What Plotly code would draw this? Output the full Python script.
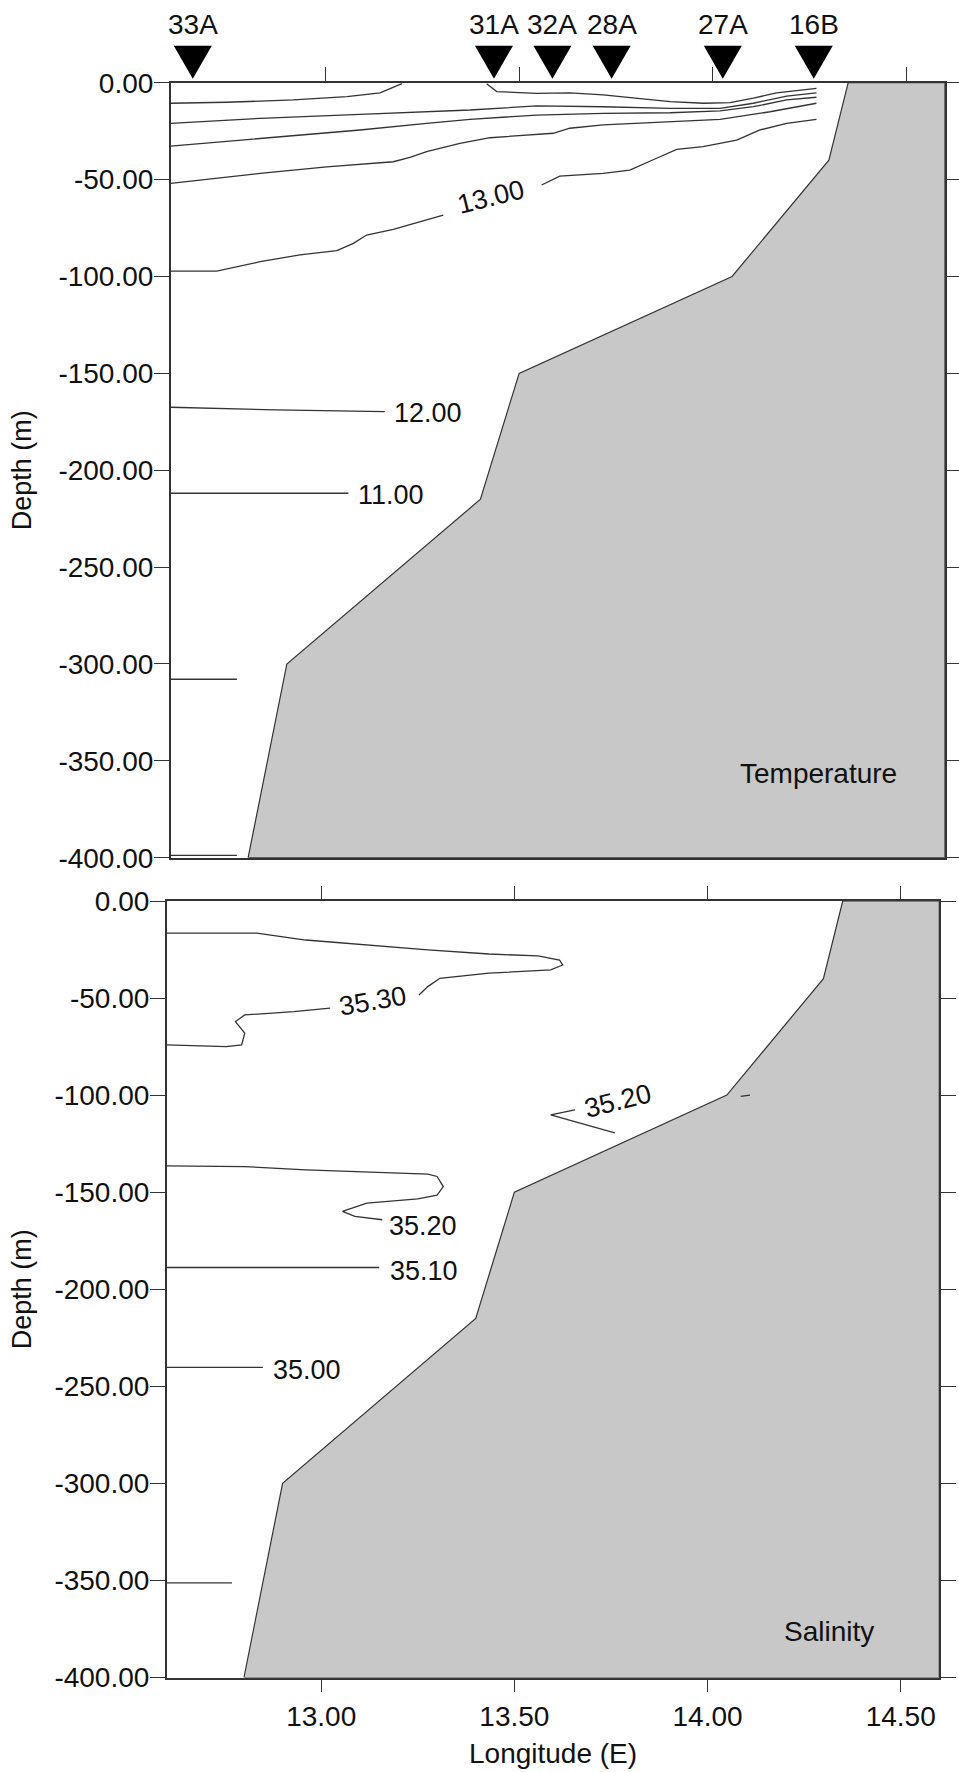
import plotly.graph_objects as go

# ---------------- axes / ticks ----------------
lon_range = [12.6, 14.6]
depth_range = [-400, 0]
depth_ticks = [0, -50, -100, -150, -200, -250, -300, -350, -400]
depth_ticktext = ["0.00", "-50.00", "-100.00", "-150.00", "-200.00",
                  "-250.00", "-300.00", "-350.00", "-400.00"]
lon_ticks = [13.0, 13.5, 14.0, 14.5]
lon_ticktext = ["13.00", "13.50", "14.00", "14.50"]

# ---------------- stations ----------------
station_names = ["33A", "31A", "32A", "28A", "27A", "16B"]
station_lon = [12.657, 13.435, 13.586, 13.739, 14.026, 14.261]

# ---------------- bathymetry (shelf profile) ----------------
bathy_lon = [12.80, 12.90, 13.40, 13.50, 14.05, 14.30, 14.35]
bathy_depth = [-400, -300, -215, -150, -100, -40, 0]

# ---------------- temperature contours ----------------
t17a_lon = [12.6, 12.744, 12.917, 13.055, 13.141, 13.175, 13.197]
t17a_depth = [-10.6, -10.1, -8.9, -7.2, -5.2, -2.4, -0.5]
t17b_lon = [13.416, 13.442, 13.545, 13.631, 13.717, 13.803, 13.890, 13.976, 14.045, 14.105, 14.165, 14.268]
t17b_depth = [-0.5, -4.6, -5.5, -5.2, -6.3, -8.0, -9.8, -10.6, -10.3, -8.0, -5.2, -2.9]
t16_lon = [12.6, 12.831, 13.089, 13.373, 13.545, 13.717, 13.890, 14.019, 14.105, 14.191, 14.268]
t16_depth = [-21.0, -18.4, -16.3, -14.1, -12.0, -12.4, -13.2, -13.2, -10.6, -6.9, -5.2]
t15_lon = [12.6, 12.831, 13.089, 13.261, 13.373, 13.545, 13.717, 13.890, 14.019, 14.105, 14.191, 14.268]
t15_depth = [-32.7, -28.7, -24.4, -21.0, -18.9, -16.7, -15.8, -15.5, -14.5, -12.4, -8.9, -7.5]
t14_lon = [12.6, 12.831, 13.003, 13.175, 13.218, 13.261, 13.347, 13.425, 13.588, 13.631, 13.717, 13.890, 14.019, 14.148, 14.268]
t14_depth = [-52.0, -46.8, -43.4, -40.8, -38.5, -35.6, -31.3, -28.4, -26.1, -23.5, -21.8, -20.1, -18.9, -15.0, -10.6]
t13a_lon = [12.6, 12.719, 12.831, 12.934, 13.029, 13.072, 13.106, 13.175, 13.304]
t13a_depth = [-97.2, -97.2, -92.4, -88.9, -86.7, -82.9, -78.6, -75.7, -68.3]
t13b_lon = [13.558, 13.605, 13.717, 13.786, 13.855, 13.907, 13.975, 14.062, 14.122, 14.191, 14.268]
t13b_depth = [-52.8, -48.2, -46.8, -45.1, -39.0, -34.4, -33.0, -29.6, -24.4, -21.0, -18.9]
t12_lon = [12.6, 12.87, 13.153]
t12_depth = [-167.5, -168.9, -169.8]
t11_lon = [12.6, 13.059]
t11_depth = [-211.9, -211.9]
t10_lon = [12.6, 12.771]
t10_depth = [-307.9, -307.9]
t09_lon = [12.6, 12.771]
t09_depth = [-398.8, -398.8]

temp_labels = ["13.00", "12.00", "11.00"]
temp_label_lon = [13.427, 13.265, 13.169]
temp_label_depth = [-59.0, -170.5, -212.8]
temp_label_angle = [-14, 0, 0]

# ---------------- salinity contours ----------------
s3530a_lon = [12.6, 12.833, 12.960, 13.276, 13.434, 13.561, 13.617, 13.625, 13.594, 13.434, 13.307, 13.276, 13.253]
s3530a_depth = [-16.6, -16.6, -20.1, -25.2, -27.3, -28.3, -30.4, -33.0, -35.5, -37.2, -39.8, -44.1, -48.4]
s3530b_lon = [13.023, 12.929, 12.802, 12.778, 12.802, 12.794, 12.754, 12.6]
s3530b_depth = [-55.2, -57.0, -58.7, -62.1, -68.1, -74.1, -75.0, -74.1]
s3520a_lon = [13.657, 13.594, 13.760]
s3520a_depth = [-107.6, -110.2, -119.4]
s3520b_lon = [14.086, 14.110]
s3520b_depth = [-100.6, -100.0]
s3520c_lon = [12.6, 12.802, 12.960, 13.182, 13.276, 13.300, 13.316, 13.300, 13.250, 13.118, 13.055, 13.087, 13.158]
s3520c_depth = [-136.4, -136.8, -138.5, -140.2, -140.7, -141.9, -147.1, -151.5, -153.5, -155.6, -159.9, -162.5, -164.2]
s3510_lon = [12.6, 13.15]
s3510_depth = [-188.8, -188.8]
s3500_lon = [12.6, 12.849]
s3500_depth = [-240.2, -240.2]
s3490_lon = [12.6, 12.769]
s3490_depth = [-351.3, -351.3]

sal_labels = ["35.30", "35.20", "35.20", "35.10", "35.00"]
sal_label_lon = [13.135, 13.768, 13.264, 13.265, 12.963]
sal_label_depth = [-51.5, -103.0, -167.3, -190.8, -241.4]
sal_label_angle = [-10, -14, 0, 0, 0]

panel_titles = ["Temperature", "Salinity"]
panel_title_lon = [14.272, 14.314]
panel_title_depth = [-356.3, -376.3]

# ---------------- layout geometry ----------------
W, H = 959, 1772
FONT = "Liberation Sans, Arial, Helvetica, sans-serif"
LINE_COL = "#333333"
FILL_COL = "rgb(200,200,200)"

top_x = [170.7 / W, 945.0 / W]
bot_x = [166.7 / W, 939.3 / W]
top_y = [1 - 857.7 / H, 1 - 82.7 / H]
bot_y = [1 - 1677.5 / H, 1 - 901.0 / H]

fig = go.Figure()

def bathy_trace(xa, ya):
    xs = list(bathy_lon) + [lon_range[1], lon_range[1], bathy_lon[0]]
    ys = list(bathy_depth) + [depth_range[1], depth_range[0], bathy_depth[0]]
    return go.Scatter(x=xs, y=ys, mode="lines", fill="toself", fillcolor=FILL_COL,
                      line=dict(color=LINE_COL, width=1.2), xaxis=xa, yaxis=ya,
                      hoverinfo="skip", showlegend=False)

def contour(lons, deps, xa, ya):
    return go.Scatter(x=lons, y=deps, mode="lines", line=dict(color=LINE_COL, width=1.3),
                      xaxis=xa, yaxis=ya, hoverinfo="skip", showlegend=False)

fig.add_trace(bathy_trace("x", "y"))
fig.add_trace(bathy_trace("x2", "y2"))

for lo, de in [(t17a_lon, t17a_depth), (t17b_lon, t17b_depth), (t16_lon, t16_depth),
               (t15_lon, t15_depth), (t14_lon, t14_depth), (t13a_lon, t13a_depth),
               (t13b_lon, t13b_depth), (t12_lon, t12_depth), (t11_lon, t11_depth),
               (t10_lon, t10_depth), (t09_lon, t09_depth)]:
    fig.add_trace(contour(lo, de, "x", "y"))

for lo, de in [(s3530a_lon, s3530a_depth), (s3530b_lon, s3530b_depth),
               (s3520a_lon, s3520a_depth), (s3520b_lon, s3520b_depth),
               (s3520c_lon, s3520c_depth), (s3510_lon, s3510_depth),
               (s3500_lon, s3500_depth), (s3490_lon, s3490_depth)]:
    fig.add_trace(contour(lo, de, "x2", "y2"))

annotations = []
for t, lo, de, ang in zip(temp_labels, temp_label_lon, temp_label_depth, temp_label_angle):
    annotations.append(dict(text=t, x=lo, y=de, xref="x", yref="y", showarrow=False,
                            textangle=ang, font=dict(size=27, color="#111", family=FONT)))
for t, lo, de, ang in zip(sal_labels, sal_label_lon, sal_label_depth, sal_label_angle):
    annotations.append(dict(text=t, x=lo, y=de, xref="x2", yref="y2", showarrow=False,
                            textangle=ang, font=dict(size=27, color="#111", family=FONT)))
for t, lo, de, xr, yr in zip(panel_titles, panel_title_lon, panel_title_depth, ["x", "x2"], ["y", "y2"]):
    annotations.append(dict(text=t, x=lo, y=de, xref=xr, yref=yr, showarrow=False,
                            font=dict(size=28, color="#111", family=FONT)))

# station labels
for name, lo in zip(station_names, station_lon):
    annotations.append(dict(text=name, x=lo, y=top_y[1], xref="x", yref="paper",
                            yanchor="middle", yshift=58, showarrow=False,
                            font=dict(size=28, color="#111", family=FONT)))

# axis titles
for dom in (top_y, bot_y):
    annotations.append(dict(text="Depth (m)", x=22 / W, y=(dom[0] + dom[1]) / 2,
                            xref="paper", yref="paper", textangle=-90, showarrow=False,
                            xanchor="center", yanchor="middle",
                            font=dict(size=27, color="#111", family=FONT)))
annotations.append(dict(text="Longitude (E)", x=(bot_x[0] + bot_x[1]) / 2, y=1 - 1753 / H,
                        xref="paper", yref="paper", showarrow=False, yanchor="middle",
                        font=dict(size=28, color="#111", family=FONT)))

# station triangles (pixel-sized, anchored at station longitude on top axis)
shapes = []
for lo in station_lon:
    shapes.append(dict(type="path", xref="x", yref="paper", xsizemode="pixel",
                       ysizemode="pixel", xanchor=lo, yanchor=top_y[1],
                       path="M-19,37 L19,37 L0,4 Z", fillcolor="black",
                       line=dict(width=0), layer="above"))

ax_common = dict(showgrid=False, zeroline=False, showline=True, linecolor=LINE_COL,
                 linewidth=1.5, tickcolor=LINE_COL, tickwidth=1.3, automargin=False,
                 tickfont=dict(size=28, color="#111", family=FONT))

fig.update_layout(
    template="none",
    width=W, height=H,
    margin=dict(l=0, r=0, t=0, b=0, autoexpand=False),
    paper_bgcolor="white", plot_bgcolor="white",
    font=dict(family=FONT, color="#111"),
    showlegend=False,
    xaxis=dict(domain=top_x, anchor="y", range=lon_range, side="top", ticks="outside",
               ticklen=14, tickvals=lon_ticks, showticklabels=False, mirror=True, **ax_common),
    yaxis=dict(domain=top_y, anchor="x", range=depth_range, ticks="outside", ticklen=15,
               tickvals=depth_ticks, ticktext=depth_ticktext, mirror="ticks",
               ticklabelstandoff=-5, **ax_common),
    xaxis2=dict(domain=bot_x, anchor="y2", range=lon_range, side="bottom", ticks="outside",
                ticklen=13, tickvals=lon_ticks, ticktext=lon_ticktext, mirror="ticks", **ax_common),
    yaxis2=dict(domain=bot_y, anchor="x2", range=depth_range, ticks="outside", ticklen=15,
                tickvals=depth_ticks, ticktext=depth_ticktext, mirror="ticks",
                ticklabelstandoff=-5, **ax_common),
    annotations=annotations,
    shapes=shapes,
)

fig.write_html("out.html")
